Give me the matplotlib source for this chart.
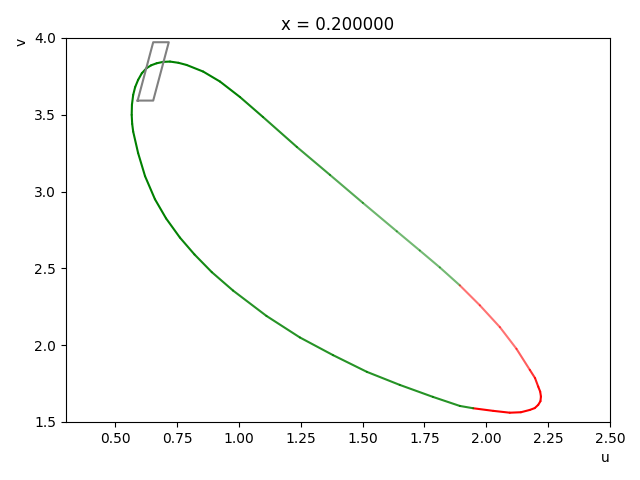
import numpy as np
import matplotlib
matplotlib.use("Agg")
import matplotlib.pyplot as plt
from matplotlib.collections import LineCollection

# cycle traced clockwise from the leftmost point
u_cycle = [0.566, 0.567, 0.572, 0.580, 0.592, 0.607, 0.626, 0.645, 0.667, 0.693,
           0.721, 0.755, 0.788, 0.855, 0.923, 1.004, 1.097, 1.234, 1.368, 1.501,
           1.638, 1.731, 1.812, 1.893, 1.974, 2.055, 2.122, 2.176, 2.197, 2.210,
           2.218, 2.221, 2.219, 2.210, 2.196, 2.176, 2.140, 2.095, 2.028, 1.947,
           1.893, 1.784, 1.650, 1.517, 1.380, 1.246, 1.111, 0.976, 0.890, 0.820,
           0.761, 0.705, 0.660, 0.620, 0.592, 0.572, 0.568, 0.566]
v_cycle = [3.499, 3.565, 3.629, 3.680, 3.727, 3.770, 3.803, 3.822, 3.835, 3.844,
           3.846, 3.838, 3.824, 3.781, 3.716, 3.615, 3.485, 3.290, 3.108, 2.926,
           2.741, 2.616, 2.506, 2.389, 2.259, 2.117, 1.976, 1.839, 1.786, 1.730,
           1.697, 1.665, 1.635, 1.611, 1.590, 1.578, 1.563, 1.560, 1.572, 1.589,
           1.604, 1.663, 1.741, 1.826, 1.935, 2.050, 2.190, 2.355, 2.475, 2.590,
           2.700, 2.825, 2.950, 3.100, 3.250, 3.390, 3.440, 3.499]

# gray box (parallelogram)
u_box = [0.590, 0.653, 0.716, 0.653, 0.590]
v_box = [3.592, 3.592, 3.972, 3.972, 3.592]

u_switch = 1.92   # red beyond this u
x_val = 0.2

u = np.array(u_cycle)
v = np.array(v_cycle)
pts = np.column_stack([u, v]).reshape(-1, 1, 2)
segs = np.concatenate([pts[:-1], pts[1:]], axis=1)
um = 0.5 * (u[:-1] + u[1:])
vm = 0.5 * (v[:-1] + v[1:])
tip = int(np.argmax(u))

colors = []
for i in range(len(segs)):
    base = (1.0, 0.0, 0.0) if um[i] > u_switch else (0.0, 0.5, 0.0)
    if i < tip:
        # upper branch fades, comes back near the tip
        a = np.interp(um[i], [0.95, 1.6], [1.0, 0.55])
        a = max(a, np.interp(vm[i], [1.7, 1.95], [1.0, 0.55]))
    elif um[i] > u_switch:
        a = 1.0
    else:
        a = np.interp(um[i], [0.7, 1.0], [1.0, 0.85])
    colors.append((*base, a))

fig = plt.figure(figsize=(6.4, 4.8), dpi=100)
ax = fig.add_subplot(111)
fig.subplots_adjust(left=0.103, right=0.953, top=0.921, bottom=0.121)

lc = LineCollection(segs, colors=colors, linewidths=1.5, capstyle='round', joinstyle='round')
ax.add_collection(lc)
ax.plot(u_box, v_box, color='gray', linewidth=1.5)

ax.set_xlim(0.3, 2.5)
ax.set_ylim(1.5, 4.0)
ax.set_title('x = %f' % x_val)
ax.set_xlabel('u', loc='right')
ax.set_ylabel('v', loc='top')

fig.savefig('out.png', dpi=100)
